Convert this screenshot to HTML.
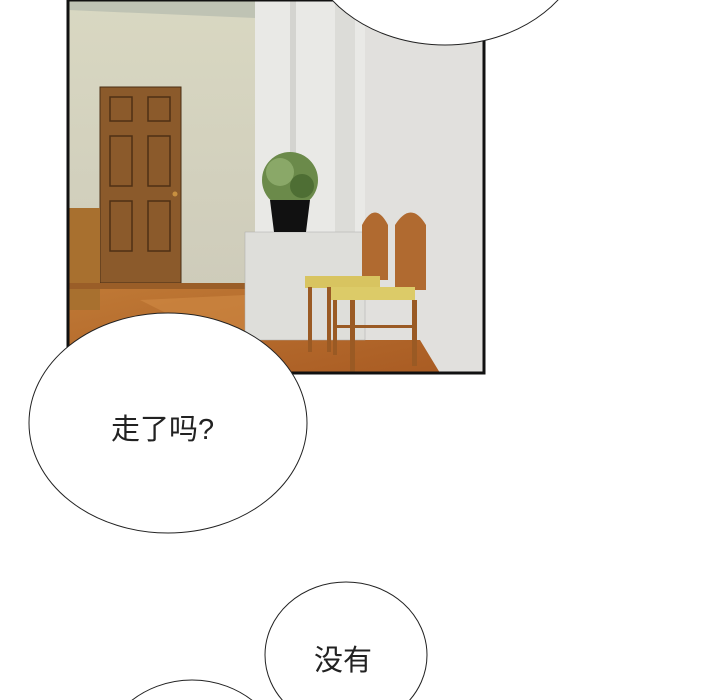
<!DOCTYPE html>
<html><head><meta charset="utf-8"><style>
html,body{margin:0;padding:0;background:#fff;width:720px;height:700px;overflow:hidden;}
#c{position:relative;width:720px;height:700px;overflow:hidden;background:#fff;font-family:"Liberation Sans","Noto Sans CJK SC",sans-serif;}
svg{position:absolute;left:0;top:0;display:block;}
.t{position:absolute;font-size:29px;color:#222;white-space:nowrap;}
</style></head><body>
<div id="c">
<svg width="720" height="700">
<defs>
<linearGradient id="lw" x1="0" y1="0" x2="0" y2="1"><stop offset="0" stop-color="#d9d8c2"/><stop offset="1" stop-color="#cbc8b8"/></linearGradient>
<linearGradient id="fl" x1="0" y1="0" x2="1" y2="1"><stop offset="0" stop-color="#c07a36"/><stop offset="1" stop-color="#a85a22"/></linearGradient>
</defs>
<g>
<rect x="68" y="0" width="416" height="373" fill="url(#lw)"/>
<polygon points="68,0 280,0 255,18 68,10" fill="#bfc3b4"/>
<rect x="68" y="283" width="416" height="90" fill="url(#fl)"/>
<polygon points="140,300 245,295 245,340 200,330" fill="#d08a45" opacity="0.6"/>
<rect x="255" y="0" width="110" height="235" fill="#e9e9e6"/>
<rect x="290" y="0" width="6" height="235" fill="#d4d4d0"/>
<rect x="335" y="0" width="20" height="235" fill="#dcdcd8"/>
<polygon points="365,0 484,0 484,373 440,373 420,340 365,340" fill="#e1e0dd"/>
<rect x="100" y="87" width="81" height="196" fill="#8b5a2b" stroke="#4a2e14" stroke-width="1"/>
<g fill="none" stroke="#4e3014" stroke-width="1.5">
<rect x="110" y="97" width="22" height="24"/><rect x="148" y="97" width="22" height="24"/>
<rect x="110" y="136" width="22" height="50"/><rect x="148" y="136" width="22" height="50"/>
<rect x="110" y="201" width="22" height="50"/><rect x="148" y="201" width="22" height="50"/>
</g>
<circle cx="175" cy="194" r="2.5" fill="#c89040"/>
<rect x="68" y="208" width="32" height="102" fill="#a8702f"/>
<rect x="68" y="283" width="180" height="6" fill="#9a5e28"/>
<rect x="245" y="232" width="120" height="108" fill="#dededa" stroke="#aaa" stroke-width="0.5"/>
<circle cx="290" cy="180" r="28" fill="#6b8a4a"/>
<circle cx="280" cy="172" r="14" fill="#8aa868"/>
<circle cx="302" cy="186" r="12" fill="#4e6e34"/>
<path d="M270 200 H310 L306 232 H274 Z" fill="#111"/>
<g fill="#9a5a24">
<path d="M362 280 V225 Q375 200 388 225 V280 Z" fill="#b06a30"/>
<path d="M395 290 V225 Q411 200 426 225 V290 Z" fill="#b06a30"/>
<rect x="305" y="276" width="75" height="12" fill="#d8c460"/>
<rect x="330" y="287" width="85" height="13" fill="#dccb68"/>
<rect x="308" y="287" width="4" height="65"/><rect x="327" y="287" width="4" height="65"/>
<rect x="350" y="300" width="5" height="72"/><rect x="412" y="300" width="5" height="66"/>
<rect x="333" y="300" width="4" height="55"/><rect x="335" y="325" width="80" height="3"/>
</g>
<rect x="68" y="0" width="416" height="373" fill="none" stroke="#111" stroke-width="3"/>
</g>
<ellipse cx="445" cy="-65" rx="140" ry="110" fill="#fff" stroke="#222" stroke-width="1"/>
<ellipse cx="168" cy="423" rx="139" ry="110" fill="#fff" stroke="#222" stroke-width="1"/>
<ellipse cx="346" cy="655" rx="81" ry="73" fill="#fff" stroke="#222" stroke-width="1"/>
<ellipse cx="192" cy="770" rx="95" ry="90" fill="#fff" stroke="#222" stroke-width="1"/>
</svg>
<div class="t" style="left:111px;top:406px;">走了吗?</div>
<div class="t" style="left:314px;top:637px;">没有</div>
</div>
</body></html>
